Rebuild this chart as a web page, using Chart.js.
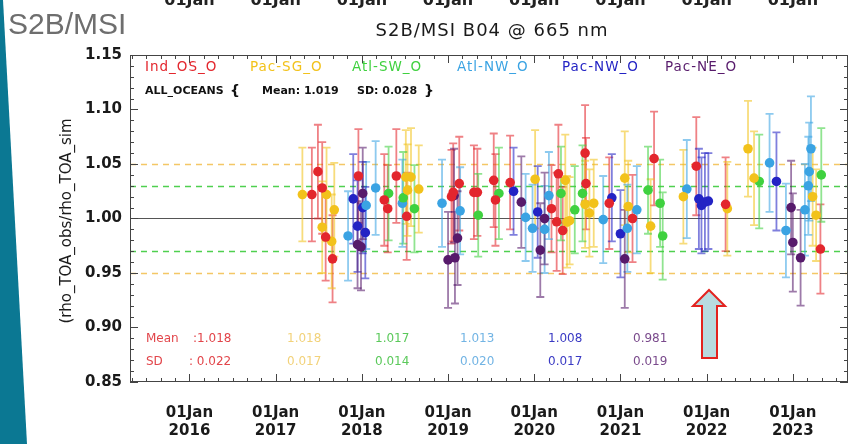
<!DOCTYPE html>
<html>
<head>
<meta charset="utf-8">
<script src="https://cdn.jsdelivr.net/npm/chart.js@4.4.1/dist/chart.umd.min.js"></script>
<style>
  html, body { margin: 0; padding: 0; background: #fff; }
  canvas { display: block; }
</style>
</head>
<body>
<canvas id="chart" width="858" height="444"></canvas>
<script>
// series names and colours (legend order)
const seriesNames = ['Ind_OS_O', 'Pac-SG_O', 'Atl-SW_O', 'Atl-NW_O', 'Pac-NW_O', 'Pac-NE_O'];
const seriesColors = ['#e3262d', '#f2c21b', '#3fd13f', '#3aa3e3', '#2323c4', '#571a6b'];

// Ind_OS_O
const indX = [2017.42, 2017.49, 2017.54, 2017.58, 2017.66, 2017.96, 2018.26, 2018.30, 2018.40, 2018.52, 2019.04, 2019.06, 2019.13, 2019.30, 2019.34, 2019.53, 2019.55, 2019.72, 2020.20, 2020.26, 2020.28, 2020.33, 2020.59, 2020.60, 2020.87, 2021.14, 2021.39, 2021.88, 2022.22, 2023.32];
const indY = [1.022, 1.043, 1.028, 0.983, 0.963, 1.039, 1.017, 1.009, 1.039, 1.002, 1.020, 1.024, 1.032, 1.024, 1.024, 1.035, 1.017, 1.033, 1.009, 0.997, 1.041, 0.989, 1.060, 1.032, 1.014, 1.000, 1.055, 1.048, 1.013, 0.972];
const indErr = [0.043, 0.043, 0.042, 0.040, 0.040, 0.043, 0.042, 0.040, 0.043, 0.040, 0.043, 0.045, 0.043, 0.043, 0.040, 0.043, 0.042, 0.043, 0.040, 0.045, 0.045, 0.040, 0.044, 0.042, 0.042, 0.040, 0.043, 0.045, 0.043, 0.041];

// Pac-SG_O
const sgX = [2017.31, 2017.54, 2017.59, 2017.65, 2017.68, 2018.51, 2018.53, 2018.57, 2018.66, 2020.01, 2020.36, 2020.38, 2020.41, 2020.59, 2020.64, 2020.69, 2021.05, 2021.09, 2021.35, 2021.73, 2022.24, 2022.48, 2022.55, 2023.23, 2023.27];
const sgY = [1.022, 0.992, 1.022, 0.979, 1.008, 1.038, 1.026, 1.038, 1.027, 1.036, 1.035, 0.997, 0.998, 1.013, 1.005, 1.014, 1.037, 1.011, 0.993, 1.020, 1.009, 1.064, 1.037, 1.020, 1.003];
const sgErr = [0.043, 0.042, 0.043, 0.043, 0.043, 0.043, 0.042, 0.045, 0.040, 0.045, 0.042, 0.042, 0.040, 0.040, 0.040, 0.040, 0.043, 0.042, 0.043, 0.043, 0.043, 0.044, 0.043, 0.045, 0.042];

// Atl-SW_O
const swX = [2018.31, 2018.48, 2018.61, 2019.35, 2019.59, 2020.31, 2020.47, 2020.56, 2021.32, 2021.46, 2021.49, 2022.61, 2023.33];
const swY = [1.023, 1.019, 1.009, 1.003, 1.023, 1.023, 1.008, 1.023, 1.026, 1.014, 0.984, 1.034, 1.040];
const swErr = [0.043, 0.042, 0.040, 0.038, 0.042, 0.043, 0.040, 0.044, 0.040, 0.040, 0.040, 0.043, 0.043];

// Atl-NW_O
const anwX = [2017.84, 2018.05, 2018.16, 2018.47, 2018.93, 2019.14, 2019.90, 2019.98, 2020.12, 2020.17, 2020.80, 2021.08, 2021.19, 2021.77, 2022.73, 2022.92, 2023.14, 2023.18, 2023.19, 2023.21];
const anwY = [0.984, 1.012, 1.028, 1.014, 1.014, 1.007, 1.001, 0.991, 0.990, 1.021, 0.999, 0.991, 1.008, 1.027, 1.051, 0.989, 1.008, 1.030, 1.043, 1.064];
const anwErr = [0.041, 0.040, 0.043, 0.040, 0.040, 0.040, 0.040, 0.040, 0.040, 0.040, 0.040, 0.040, 0.040, 0.045, 0.045, 0.043, 0.042, 0.045, 0.045, 0.048];

// Pac-NW_O
const pnwX = [2017.90, 2017.95, 2018.01, 2018.04, 2019.76, 2020.04, 2020.90, 2021.00, 2021.91, 2021.94, 2021.98, 2022.02, 2022.81];
const pnwY = [1.018, 0.993, 1.010, 0.987, 1.025, 1.006, 1.019, 0.986, 1.018, 1.012, 1.015, 1.016, 1.034];
const pnwErr = [0.041, 0.042, 0.042, 0.042, 0.040, 0.042, 0.040, 0.040, 0.046, 0.044, 0.045, 0.044, 0.045];

// Pac-NE_O
const pneX = [2017.95, 2017.99, 2018.01, 2019.00, 2019.07, 2019.08, 2019.11, 2019.85, 2020.07, 2020.12, 2021.05, 2022.98, 2023.00, 2023.09];
const pneY = [0.976, 0.974, 1.023, 0.962, 1.021, 0.964, 0.982, 1.015, 0.971, 1.000, 0.963, 1.010, 0.978, 0.964];
const pneErr = [0.040, 0.040, 0.042, 0.044, 0.043, 0.042, 0.043, 0.042, 0.043, 0.042, 0.045, 0.043, 0.045, 0.044];

// per-series statistics printed at the bottom
const seriesMean = ['1.018', '1.018', '1.017', '1.013', '1.008', '0.981'];
const seriesSD = ['0.022', '0.017', '0.014', '0.020', '0.017', '0.019'];
const allMean = '1.019';
const allSD = '0.028';

// axes
const years = [2016, 2017, 2018, 2019, 2020, 2021, 2022, 2023];
const yTicks = [0.85, 0.90, 0.95, 1.00, 1.05, 1.10, 1.15];
const refSolid = 1.00;
const refGreen = [1.03, 0.97];
const refOrange = [1.05, 0.95];

const allX = [indX, sgX, swX, anwX, pnwX, pneX];
const allY = [indY, sgY, swY, anwY, pnwY, pneY];
const allErr = [indErr, sgErr, swErr, anwErr, pnwErr, pneErr];

const FONT = '"DejaVu Sans", sans-serif';

function rgba(hex, a) {
  const n = parseInt(hex.slice(1), 16);
  return `rgba(${(n >> 16) & 255},${(n >> 8) & 255},${n & 255},${a})`;
}

function txt(ctx, s, x, y, size, color, opts = {}) {
  ctx.save();
  ctx.font = `${opts.weight || 'normal'} ${size}px ${FONT}`;
  ctx.fillStyle = color;
  ctx.textAlign = opts.align || 'left';
  ctx.textBaseline = opts.baseline || 'middle';
  if (opts.spacing) ctx.letterSpacing = opts.spacing + 'px';
  ctx.fillText(s, x, y);
  ctx.restore();
}

// error bars + reference lines, drawn under the points
const errorBars = {
  id: 'errorBars',
  beforeDatasetsDraw(chart) {
    const ctx = chart.ctx, xs = chart.scales.x, ys = chart.scales.y, a = chart.chartArea;
    ctx.save();
    ctx.beginPath();
    ctx.rect(a.left, a.top, a.right - a.left, a.bottom - a.top);
    ctx.clip();

    const hline = (v, color, dash, w) => {
      const py = Math.round(ys.getPixelForValue(v)) + 0.5;
      ctx.strokeStyle = color; ctx.lineWidth = w; ctx.setLineDash(dash);
      ctx.beginPath(); ctx.moveTo(a.left, py); ctx.lineTo(a.right, py); ctx.stroke();
    };
    refOrange.forEach(v => hline(v, '#f4c766', [6, 5], 1.5));
    refGreen.forEach(v => hline(v, '#4fd04f', [6, 5], 1.5));
    hline(refSolid, '#555555', [], 1);
    ctx.setLineDash([]);

    chart.data.datasets.forEach((ds, di) => {
      const errs = allErr[di];
      ctx.strokeStyle = rgba(seriesColors[di], 0.58);
      ctx.lineWidth = 1.8;
      ds.data.forEach((p, i) => {
        const px = xs.getPixelForValue(p.x);
        const y1 = ys.getPixelForValue(p.y + errs[i]);
        const y2 = ys.getPixelForValue(p.y - errs[i]);
        ctx.beginPath();
        ctx.moveTo(px, y1); ctx.lineTo(px, y2);
        ctx.moveTo(px - 4, y1); ctx.lineTo(px + 4, y1);
        ctx.moveTo(px - 4, y2); ctx.lineTo(px + 4, y2);
        ctx.stroke();
      });
    });
    ctx.restore();
  }
};

// frame, inward ticks, texts, arrow and page decoration
const decorations = {
  id: 'decorations',
  afterDraw(chart) {
    const ctx = chart.ctx, xs = chart.scales.x, ys = chart.scales.y, a = chart.chartArea;
    ctx.save();

    // frame
    ctx.strokeStyle = '#444'; ctx.lineWidth = 1;
    ctx.strokeRect(a.left + 0.5, a.top + 0.5, a.right - a.left - 1, a.bottom - a.top - 1);

    // y ticks every 0.01, major every 0.05
    ctx.beginPath();
    for (let k = 0; k <= 30; k++) {
      const py = Math.round(ys.getPixelForValue(0.85 + k * 0.01)) + 0.5;
      const len = k % 5 === 0 ? 8 : 4;
      ctx.moveTo(a.left, py); ctx.lineTo(a.left + len, py);
      ctx.moveTo(a.right, py); ctx.lineTo(a.right - len, py);
    }
    // x ticks every 2 months, major every year
    const k0 = Math.ceil(xs.min * 6), k1 = Math.floor(xs.max * 6);
    for (let k = k0; k <= k1; k++) {
      const px = Math.round(xs.getPixelForValue(k / 6)) + 0.5;
      const len = k % 6 === 0 ? 8 : 4;
      ctx.moveTo(px, a.bottom); ctx.lineTo(px, a.bottom - len);
      ctx.moveTo(px, a.top); ctx.lineTo(px, a.top + len);
    }
    ctx.stroke();

    // title
    txt(ctx, 'S2B/MSI B04 @ 665 nm', 492, 31, 18, '#1a1a1a', { align: 'center', spacing: 1 });

    // y axis title
    ctx.save();
    ctx.translate(67, 221);
    ctx.rotate(-Math.PI / 2);
    txt(ctx, '(rho_TOA_obs/rho_TOA_sim', 0, 0, 15, '#1a1a1a', { align: 'center' });
    ctx.restore();

    // legend row
    const legX = [145, 250, 352, 457, 562, 665];
    seriesNames.forEach((n, i) => txt(ctx, n, legX[i], 67, 13.5, seriesColors[i], { spacing: 1 }));

    // overall stats
    txt(ctx, 'ALL_OCEANS', 145, 91, 11, '#111', { weight: 'bold' });
    txt(ctx, '{', 230, 91, 14, '#111', { weight: 'bold' });
    txt(ctx, 'Mean: ' + allMean, 262, 91, 11, '#111', { weight: 'bold' });
    txt(ctx, 'SD: ' + allSD, 357, 91, 11, '#111', { weight: 'bold' });
    txt(ctx, '}', 424, 91, 14, '#111', { weight: 'bold' });

    // per-series stats
    const statColors = ['#e2454a', '#f2d27a', '#5bc95b', '#72b4e4', '#3a3ac4', '#7a4a8c'];
    const statX = [193, 287, 375, 460, 548, 633];
    txt(ctx, 'Mean', 146, 339, 12, statColors[0]);
    txt(ctx, 'SD', 146, 362, 12, statColors[0]);
    seriesMean.forEach((m, i) => txt(ctx, i === 0 ? ':' + m : m, statX[i], 339, 12, statColors[i]));
    seriesSD.forEach((s, i) => txt(ctx, i === 0 ? ': ' + s : s, i === 0 ? 189 : statX[i], 362, 12, statColors[i]));

    // arrow
    ctx.beginPath();
    ctx.moveTo(709, 290);
    ctx.lineTo(725, 306); ctx.lineTo(717, 306); ctx.lineTo(717, 358);
    ctx.lineTo(702, 358); ctx.lineTo(702, 306); ctx.lineTo(693, 306);
    ctx.closePath();
    ctx.fillStyle = '#b8dbe0'; ctx.fill();
    ctx.strokeStyle = '#e3231f'; ctx.lineWidth = 2; ctx.stroke();

    // cut-off labels of the panel above
    years.forEach(y => txt(ctx, '01Jan', xs.getPixelForValue(y), 5, 16, '#222', { align: 'center', baseline: 'alphabetic', weight: 'bold' }));

    // slide decoration
    ctx.fillStyle = '#0b7893';
    ctx.beginPath();
    ctx.moveTo(0, 0); ctx.lineTo(3, 0); ctx.lineTo(27, 444); ctx.lineTo(0, 444);
    ctx.closePath(); ctx.fill();
    ctx.save();
    ctx.font = '30px "Liberation Sans", Arial, sans-serif';
    ctx.fillStyle = '#6e6e6e';
    ctx.textBaseline = 'alphabetic';
    ctx.fillText('S2B/MSI', 8, 34);
    ctx.restore();

    ctx.restore();
  }
};

const datasets = seriesNames.map((name, i) => ({
  label: name,
  data: allX[i].map((x, j) => ({ x: x, y: allY[i][j] })),
  backgroundColor: seriesColors[i],
  borderWidth: 0,
  pointRadius: 4.8,
  pointHoverRadius: 4.8
}));

new Chart(document.getElementById('chart').getContext('2d'), {
  type: 'scatter',
  data: { datasets: datasets },
  options: {
    responsive: false,
    animation: false,
    devicePixelRatio: 1,
    layout: { padding: { top: 55, right: 10, left: 0, bottom: 0 } },
    plugins: { legend: { display: false }, title: { display: false }, tooltip: { enabled: false } },
    scales: {
      x: {
        type: 'linear',
        min: 2015.31,
        max: 2023.64,
        grid: { display: false, drawTicks: false },
        border: { display: false },
        afterBuildTicks: scale => { scale.ticks = years.map(v => ({ value: v })); },
        afterFit: scale => { scale.height = 62; },
        ticks: {
          autoSkip: false,
          maxRotation: 0,
          padding: 22,
          color: '#1a1a1a',
          font: { family: FONT, size: 15, weight: 'bold' },
          callback: v => ['01Jan', String(v)]
        }
      },
      y: {
        type: 'linear',
        min: 0.85,
        max: 1.15,
        grid: { display: false, drawTicks: false },
        border: { display: false },
        afterBuildTicks: scale => { scale.ticks = yTicks.map(v => ({ value: v })); },
        afterFit: scale => { scale.width = 130; },
        ticks: {
          padding: 8,
          color: '#1a1a1a',
          font: { family: FONT, size: 15, weight: 'bold' },
          callback: v => Number(v).toFixed(2)
        }
      }
    }
  },
  plugins: [errorBars, decorations]
});
</script>
</body>
</html>
